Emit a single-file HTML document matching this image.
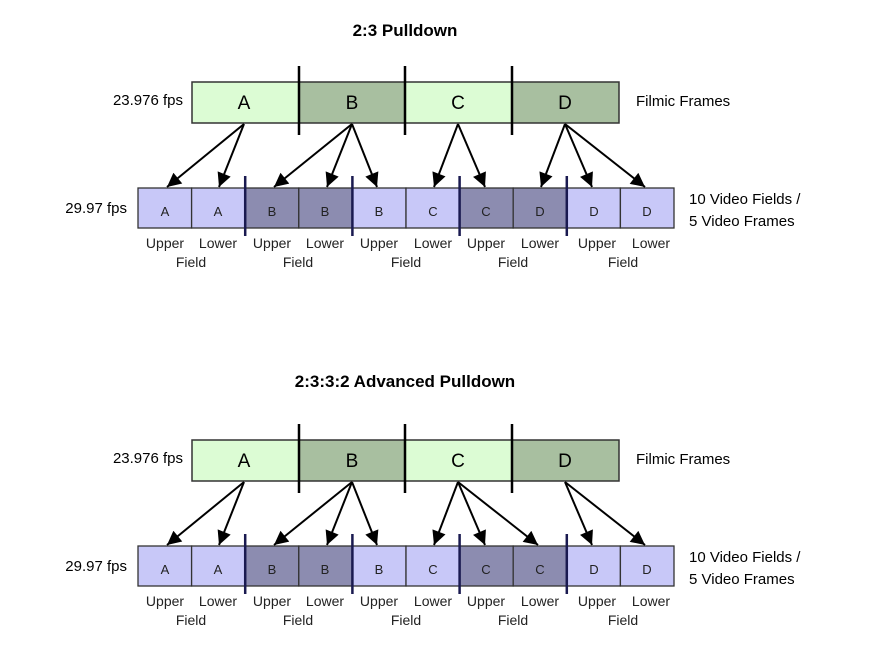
<!DOCTYPE html>
<html><head><meta charset="utf-8"><style>
html,body{margin:0;padding:0;background:#fff;}
svg{display:block;font-family:"Liberation Sans",sans-serif;}
.t{font-weight:bold;font-size:17px;text-anchor:middle;}
.big{font-size:19px;text-anchor:middle;}
.lab{font-size:15px;}
.f{font-size:13px;text-anchor:middle;fill:#222;}
.s{font-size:14px;text-anchor:middle;fill:#222;}
</style></head><body>
<svg width="874" height="650" viewBox="0 0 874 650" xmlns="http://www.w3.org/2000/svg">
<defs>
<marker id="ah" viewBox="0 0 10 10" refX="10" refY="5" markerWidth="7.5" markerHeight="7" orient="auto" markerUnits="strokeWidth">
<path d="M0,0 L10,5 L0,10 z" fill="#000"/>
</marker>
<g id="top">
<rect x="192" y="82" width="107" height="41" fill="#dcfcd4" stroke="#333" stroke-width="1.5"/>
<rect x="299" y="82" width="106" height="41" fill="#a8bfa0" stroke="#333" stroke-width="1.5"/>
<rect x="405" y="82" width="107" height="41" fill="#dcfcd4" stroke="#333" stroke-width="1.5"/>
<rect x="512" y="82" width="107" height="41" fill="#a8bfa0" stroke="#333" stroke-width="1.5"/>
<line x1="299" y1="66" x2="299" y2="135" stroke="#000" stroke-width="2.5"/>
<line x1="405" y1="66" x2="405" y2="135" stroke="#000" stroke-width="2.5"/>
<line x1="512" y1="66" x2="512" y2="135" stroke="#000" stroke-width="2.5"/>
<text class="big" x="244" y="109">A</text>
<text class="big" x="352" y="109">B</text>
<text class="big" x="458" y="109">C</text>
<text class="big" x="565" y="109">D</text>
<text class="lab" x="183" y="105" text-anchor="end">23.976 fps</text>
<text class="lab" x="636" y="106">Filmic Frames</text>
<text class="lab" x="127" y="213" text-anchor="end">29.97 fps</text>
<text class="lab" x="689" y="204">10 Video Fields /</text>
<text class="lab" x="689" y="226">5 Video Frames</text>
<g class="s">
<text x="165" y="248">Upper</text><text x="218" y="248">Lower</text>
<text x="272" y="248">Upper</text><text x="325" y="248">Lower</text>
<text x="379" y="248">Upper</text><text x="433" y="248">Lower</text>
<text x="486" y="248">Upper</text><text x="540" y="248">Lower</text>
<text x="597" y="248">Upper</text><text x="651" y="248">Lower</text>
<text x="191" y="267">Field</text><text x="298" y="267">Field</text>
<text x="406" y="267">Field</text><text x="513" y="267">Field</text>
<text x="623" y="267">Field</text>
</g>
</g>
<g id="divs">
<line x1="245.2" y1="176" x2="245.2" y2="236" stroke="#1a1a50" stroke-width="2.5"/>
<line x1="352.4" y1="176" x2="352.4" y2="236" stroke="#1a1a50" stroke-width="2.5"/>
<line x1="459.6" y1="176" x2="459.6" y2="236" stroke="#1a1a50" stroke-width="2.5"/>
<line x1="566.8" y1="176" x2="566.8" y2="236" stroke="#1a1a50" stroke-width="2.5"/>
</g>
</defs>

<text class="t" x="405" y="36">2:3 Pulldown</text>
<use href="#top"/>
<g stroke="#333" stroke-width="1.3">
<rect x="138" y="188" width="53.6" height="40" fill="#c8c8f8"/>
<rect x="191.6" y="188" width="53.6" height="40" fill="#c8c8f8"/>
<rect x="245.2" y="188" width="53.6" height="40" fill="#8c8cb0"/>
<rect x="298.8" y="188" width="53.6" height="40" fill="#8c8cb0"/>
<rect x="352.4" y="188" width="53.6" height="40" fill="#c8c8f8"/>
<rect x="406" y="188" width="53.6" height="40" fill="#c8c8f8"/>
<rect x="459.6" y="188" width="53.6" height="40" fill="#8c8cb0"/>
<rect x="513.2" y="188" width="53.6" height="40" fill="#8c8cb0"/>
<rect x="566.8" y="188" width="53.6" height="40" fill="#c8c8f8"/>
<rect x="620.4" y="188" width="53.6" height="40" fill="#c8c8f8"/>
</g>
<use href="#divs"/>
<g class="f">
<text x="165" y="216">A</text><text x="218" y="216">A</text><text x="272" y="216">B</text><text x="325" y="216">B</text><text x="379" y="216">B</text>
<text x="433" y="216">C</text><text x="486" y="216">C</text><text x="540" y="216">D</text><text x="594" y="216">D</text><text x="647" y="216">D</text>
</g>
<g stroke="#000" stroke-width="2" marker-end="url(#ah)">
<line x1="244" y1="124" x2="167" y2="187"/>
<line x1="244" y1="124" x2="219" y2="187"/>
<line x1="352" y1="124" x2="274" y2="187"/>
<line x1="352" y1="124" x2="327" y2="187"/>
<line x1="352" y1="124" x2="377" y2="187"/>
<line x1="458" y1="124" x2="434" y2="187"/>
<line x1="458" y1="124" x2="485" y2="187"/>
<line x1="565" y1="124" x2="541" y2="187"/>
<line x1="565" y1="124" x2="592" y2="187"/>
<line x1="565" y1="124" x2="645" y2="187"/>
</g>

<text class="t" x="405" y="387">2:3:3:2 Advanced Pulldown</text>
<g transform="translate(0,358)">
<use href="#top"/>
<g stroke="#333" stroke-width="1.3">
<rect x="138" y="188" width="53.6" height="40" fill="#c8c8f8"/>
<rect x="191.6" y="188" width="53.6" height="40" fill="#c8c8f8"/>
<rect x="245.2" y="188" width="53.6" height="40" fill="#8c8cb0"/>
<rect x="298.8" y="188" width="53.6" height="40" fill="#8c8cb0"/>
<rect x="352.4" y="188" width="53.6" height="40" fill="#c8c8f8"/>
<rect x="406" y="188" width="53.6" height="40" fill="#c8c8f8"/>
<rect x="459.6" y="188" width="53.6" height="40" fill="#8c8cb0"/>
<rect x="513.2" y="188" width="53.6" height="40" fill="#8c8cb0"/>
<rect x="566.8" y="188" width="53.6" height="40" fill="#c8c8f8"/>
<rect x="620.4" y="188" width="53.6" height="40" fill="#c8c8f8"/>
</g>
<use href="#divs"/>
<g class="f">
<text x="165" y="216">A</text><text x="218" y="216">A</text><text x="272" y="216">B</text><text x="325" y="216">B</text><text x="379" y="216">B</text>
<text x="433" y="216">C</text><text x="486" y="216">C</text><text x="540" y="216">C</text><text x="594" y="216">D</text><text x="647" y="216">D</text>
</g>
<g stroke="#000" stroke-width="2" marker-end="url(#ah)">
<line x1="244" y1="124" x2="167" y2="187"/>
<line x1="244" y1="124" x2="219" y2="187"/>
<line x1="352" y1="124" x2="274" y2="187"/>
<line x1="352" y1="124" x2="327" y2="187"/>
<line x1="352" y1="124" x2="377" y2="187"/>
<line x1="458" y1="124" x2="434" y2="187"/>
<line x1="458" y1="124" x2="485" y2="187"/>
<line x1="458" y1="124" x2="538" y2="187"/>
<line x1="565" y1="124" x2="592" y2="187"/>
<line x1="565" y1="124" x2="645" y2="187"/>
</g>
</g>
</svg>
</body></html>
